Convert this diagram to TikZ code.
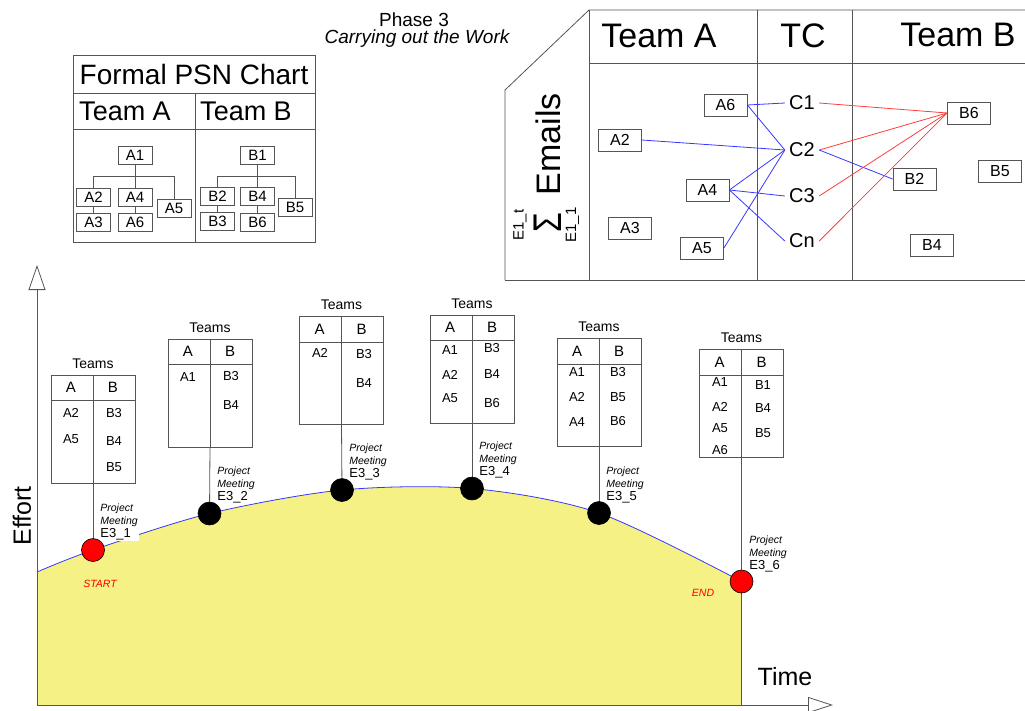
\documentclass[tikz,border=0pt]{standalone}
\usepackage{fontspec}
\usepackage{graphicx}
\setmainfont{Liberation Sans}
\usetikzlibrary{arrows.meta,calc}
\definecolor{lg}{RGB}{85,85,85}
\definecolor{yel}{RGB}{246,241,133}
\definecolor{bl}{RGB}{55,55,255}
\definecolor{rd}{RGB}{255,60,60}
\newcommand{\fsz}[1]{\fontsize{#1}{#1}\selectfont}
\begin{document}
\begin{tikzpicture}[x=1pt,y=-1pt, line width=0.8pt,
 pbox/.style={draw=lg, minimum width=34pt, minimum height=18pt, inner sep=0pt, font=\fsz{15}},
 ebox/.style={draw=lg, minimum width=43pt, minimum height=22pt, inner sep=0pt, font=\fsz{16}},
 cl/.style={inner xsep=4pt, inner ysep=1pt, font=\fsz{20}},
 bc/.style={draw=bl},
 rc/.style={draw=rd},
 ttab/.style={draw=lg, minimum width=84pt, minimum height=108pt, inner sep=0pt},
 tl/.style={font=\fsz{14}, inner sep=0pt},
 th/.style={font=\fsz{15}, inner sep=0pt},
 te/.style={font=\fsz{13}, inner sep=0pt},
 pm/.style={align=left, anchor=north west, inner sep=0pt, font=\fontsize{10.5}{13}\selectfont},
 mt/.style={circle, draw=black, line width=0.6pt, minimum size=23pt, inner sep=0pt},
 big/.style={font=\fsz{34}, inner sep=0pt},
 lbl/.style={font=\fsz{10.5}\itshape, text=red, inner sep=0pt},
 ]
\useasboundingbox (0,0) rectangle (1025,710);

% ---------- title
\node[font=\fsz{19}, anchor=base, inner sep=0pt] (ph) at (414,26) {Phase 3};
\node[font=\fsz{19}\itshape, anchor=base, inner sep=0pt] (cw) at (417,43) {Carrying out the Work};

% ---------- Formal PSN chart
\draw[lg] (73,55) rectangle (315,242);
\draw[lg] (73,93) -- (315,93) (73,129) -- (315,129) (195,93) -- (195,242);
\node[font=\fsz{28}, inner sep=0pt] (psnt) at (194,74) {Formal PSN Chart};
\node[font=\fsz{27}, inner sep=0pt] (psa) at (125,111) {Team A};
\node[font=\fsz{27}, inner sep=0pt] (psb) at (246,111) {Team B};

\node[pbox] (pA1) at (135,155) {A1};
\node[pbox] (pA2) at (93.5,197) {A2};
\node[pbox] (pA4) at (135,197) {A4};
\node[pbox] (pA5) at (174,208) {A5};
\node[pbox] (pA3) at (93.5,222) {A3};
\node[pbox] (pA6) at (135,222) {A6};
\draw[lg] (pA1.south) -- (pA4.north);
\draw[lg] (pA2.north) -- ++(0,-11) -| (pA5.north);
\draw[lg] (pA2.south) -- (pA3.north);
\draw[lg] (pA4.south) -- (pA6.north);

\node[pbox] (pB1) at (257.5,155) {B1};
\node[pbox] (pB2) at (217.5,196) {B2};
\node[pbox] (pB4) at (257.5,196) {B4};
\node[pbox] (pB5) at (295,207) {B5};
\node[pbox] (pB3) at (217.5,221) {B3};
\node[pbox] (pB6) at (257.5,222) {B6};
\draw[lg] (pB1.south) -- (pB4.north);
\draw[lg] (pB2.north) -- ++(0,-10) -| (pB5.north);
\draw[lg] (pB2.south) -- (pB3.north);
\draw[lg] (pB4.south) -- (pB6.north);

% ---------- Emails panel
\draw[lg] (505,280) -- (505,90) -- (589,10) -- (1025,10);
\draw[lg] (505,280) -- (1025,280);
\draw[lg] (589,10) -- (589,280) (589,63) -- (1025,63) (757,10) -- (757,280) (852,10) -- (852,280);
\node[big] (hA) at (659,36) {Team A};
\node[big] (hTC) at (803,36) {TC};
\node[big] (hB) at (958,35) {Team B};
\node[big, rotate=90] (em) at (548,144) {Emails};
\node[font=\fsz{40}, inner sep=0pt, rotate=90] (sig) at (547.5,223) {\scalebox{0.8}[1]{Σ}};
\node[font=\fsz{15}, inner sep=0pt, rotate=90] (sup) at (520,225) {E1\_t};
\node[font=\fsz{15}, inner sep=0pt, rotate=90] (sub) at (572.5,225) {E1\_1};

\node[ebox] (eA6) at (725.5,105) {A6};
\node[ebox] (eA2) at (620,140) {A2};
\node[ebox] (eA4) at (707.5,190) {A4};
\node[ebox] (eA3) at (630,228) {A3};
\node[ebox] (eA5) at (702,248) {A5};
\node[cl] (C1) at (802,103) {C1};
\node[cl] (C2) at (802,150) {C2};
\node[cl] (C3) at (802,196) {C3};
\node[cl] (Cn) at (802,241) {Cn};
\node[ebox] (eB6) at (969,113) {B6};
\node[ebox] (eB2) at (914.5,179) {B2};
\node[ebox] (eB5) at (1000,171) {B5};
\node[ebox] (eB4) at (932,245) {B4};

\draw[bc] (eA6.east) -- (C1.west);
\draw[bc] (eA6.east) -- (C2.west);
\draw[bc] (eA2.east) -- (C2.west);
\draw[bc] (eA4.east) -- (C2.west);
\draw[bc] (eA4.east) -- (C3.west);
\draw[bc] (eA4.east) -- (Cn.west);
\draw[bc] (eA5.east) -- (C2.west);
\draw[bc] (C2.east) -- (eB2.west);
\draw[rc] (C1.east) -- (eB6.west);
\draw[rc] (C2.east) -- (eB6.west);
\draw[rc] (C3.east) -- (eB6.west);
\draw[rc] (Cn.east) -- (eB6.west);

% ---------- effort curve
\fill[yel] (37,705) -- plot[smooth] coordinates {(37,572) (93,550) (209.5,513.5) (342,490) (472,488.5) (599,513) (741.5,581.5)} -- (741.5,705) -- cycle;
\draw[bl] plot[smooth] coordinates {(37,572) (93,550) (209.5,513.5) (342,490) (472,488.5) (599,513) (741.5,581.5)};

% axes
\coordinate (org) at (37,705);
\coordinate (ytip) at (37,265);
\coordinate (xtip) at (833,705);
\draw[lg, -{Triangle[open, length=25pt, width=17pt]}] (org) -- (ytip);
\draw[lg, -{Triangle[open, length=25pt, width=16pt]}] (org) -- (xtip);
\node[font=\fsz{25}, inner sep=0pt, rotate=90] (eff) at (22,516) {Effort};
\node[font=\fsz{25}, inner sep=0pt] (tim) at (785,677) {Time};

% ---------- team tables
\node[ttab] (t1) at (93,429) {};
\node[ttab] (t2) at (210,393) {};
\node[ttab] (t3) at (341.5,370.5) {};
\node[ttab] (t4) at (472,369) {};
\node[ttab] (t5) at (599,392.5) {};
\node[ttab] (t6) at (741.5,403.5) {};
\foreach \t in {t1,t2,t3,t4,t5,t6}{
  \draw[lg] (\t.north west) ++(0,26) -- ($(\t.north east)+(0,26)$);
  \draw[lg] (\t.north) -- (\t.south);
  \node[tl] at ($(\t.north)+(0,-11)$) {Teams};
  \node[th] at ($(\t.north)+(-22,13)$) {A};
  \node[th] at ($(\t.north)+(20,13)$) {B};
}

% entries
\node[te] (t1a1) at (71,413) {A2};
\node[te] (t1a2) at (71,439) {A5};
\node[te] (t1b1) at (114,413) {B3};
\node[te] (t1b2) at (114,441) {B4};
\node[te] (t1b3) at (114,467) {B5};

\node[te] (t2a1) at (188,377) {A1};
\node[te] (t2b1) at (231,376) {B3};
\node[te] (t2b2) at (231,405) {B4};

\node[te] (t3a1) at (320,353) {A2};
\node[te] (t3b1) at (364,354) {B3};
\node[te] (t3b2) at (364,383) {B4};

\node[te] (t4a1) at (450,350) {A1};
\node[te] (t4a2) at (450,375) {A2};
\node[te] (t4a3) at (450,398) {A5};
\node[te] (t4b1) at (492,348) {B3};
\node[te] (t4b2) at (492,374) {B4};
\node[te] (t4b3) at (492,403) {B6};

\node[te] (t5a1) at (577,372) {A1};
\node[te] (t5a2) at (577,397) {A2};
\node[te] (t5a3) at (577,422) {A4};
\node[te] (t5b1) at (618,372) {B3};
\node[te] (t5b2) at (618,397) {B5};
\node[te] (t5b3) at (618,421) {B6};

\node[te] (t6a1) at (720,382) {A1};
\node[te] (t6a2) at (720,407) {A2};
\node[te] (t6a3) at (720,428) {A5};
\node[te] (t6a4) at (720,450) {A6};
\node[te] (t6b1) at (763,385) {B1};
\node[te] (t6b2) at (763,408) {B4};
\node[te] (t6b3) at (763,433) {B5};

% ---------- meetings
\coordinate (m1p) at (93,550);
\coordinate (m2p) at (209.5,513.5);
\coordinate (m3p) at (342,490);
\coordinate (m4p) at (472,488.5);
\coordinate (m5p) at (599,513);
\coordinate (m6p) at (741.5,581.5);
\coordinate (xend) at (741.5,705);
\draw[lg] (t1.south) -- (m1p);
\draw[lg] (t2.south) -- (m2p);
\draw[lg] (t3.south) -- (m3p);
\draw[lg] (t4.south) -- (m4p);
\draw[lg] (t5.south) -- (m5p);
\draw[lg] (t6.south) -- (xend);

\node[pm, fill=white, inner sep=1pt] (l1) at (99,502) {\textit{Project}\\\textit{Meeting}\\{\fsz{13}E3\_1}};
\node[pm] (l2) at (217,466) {\textit{Project}\\\textit{Meeting}\\{\fsz{13}E3\_2}};
\node[pm] (l3) at (349,443) {\textit{Project}\\\textit{Meeting}\\{\fsz{13}E3\_3}};
\node[pm] (l4) at (479,441) {\textit{Project}\\\textit{Meeting}\\{\fsz{13}E3\_4}};
\node[pm] (l5) at (606,466) {\textit{Project}\\\textit{Meeting}\\{\fsz{13}E3\_5}};
\node[pm] (l6) at (749,535) {\textit{Project}\\\textit{Meeting}\\{\fsz{13}E3\_6}};

\node[mt, fill=red] (m1) at (m1p) {};
\node[mt, fill=black] (m2) at (m2p) {};
\node[mt, fill=black] (m3) at (m3p) {};
\node[mt, fill=black] (m4) at (m4p) {};
\node[mt, fill=black] (m5) at (m5p) {};
\node[mt, fill=red] (m6) at (m6p) {};

\node[lbl] (st) at (100,584) {START};
\node[lbl] (en) at (703,593) {END};
\end{tikzpicture}
\end{document}
